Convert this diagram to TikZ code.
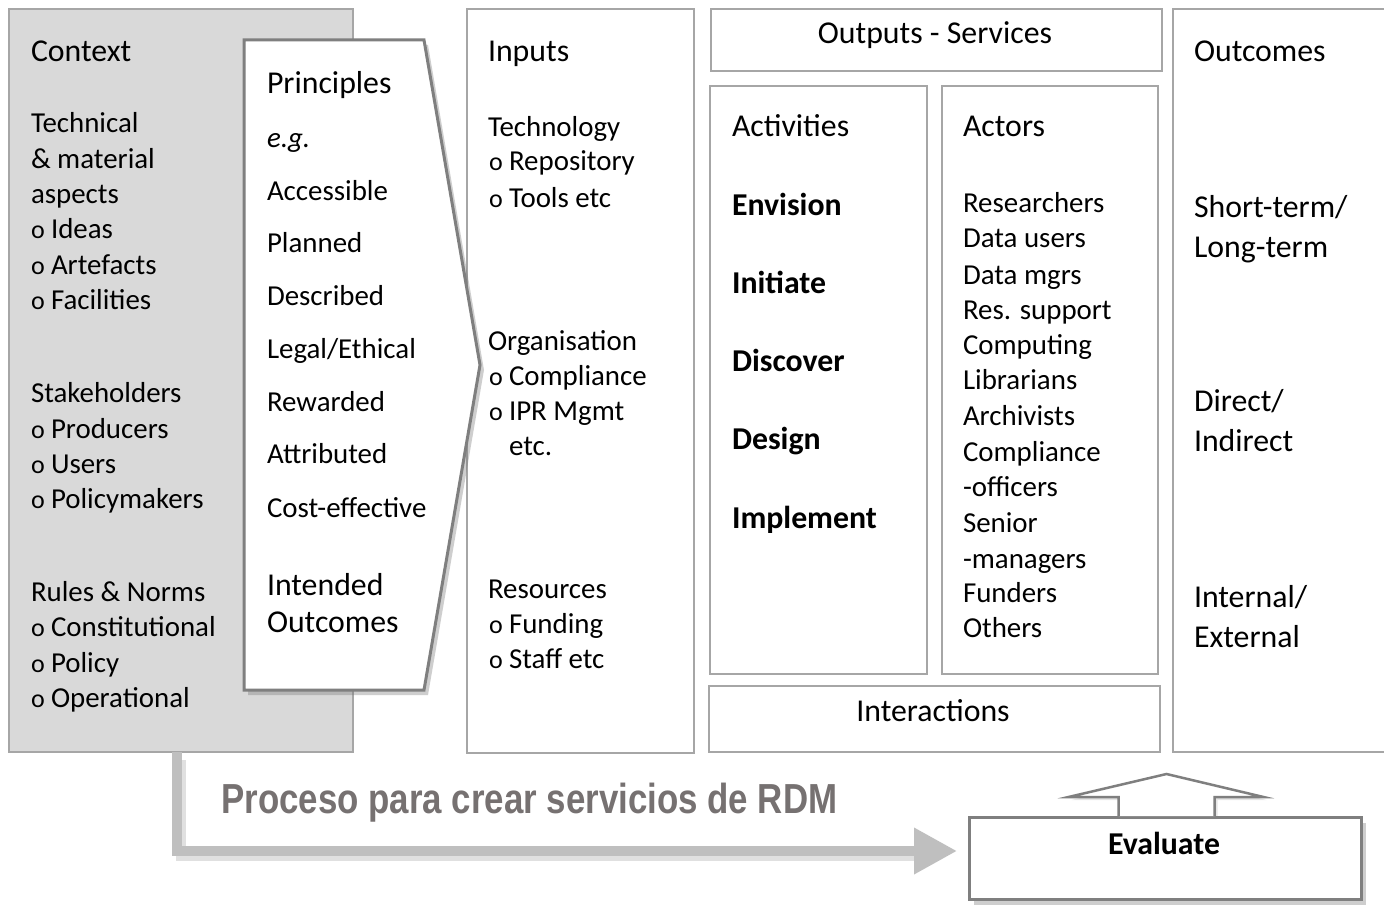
\documentclass[tikz,border=0pt]{standalone}
\usepackage{fontspec}
\setmainfont{Carlito}[ItalicFont={Carlito Italic},BoldFont={Carlito Bold},BoldItalicFont={Carlito Bold Italic}]
\newfontfamily\titlefont[FakeStretch=0.83]{Liberation Sans}
\usetikzlibrary{arrows.meta,shadows}
\definecolor{boxgray}{HTML}{A6A6A6}
\definecolor{ctxfill}{HTML}{D9D9D9}
\definecolor{darkborder}{HTML}{7F7F7F}
\definecolor{arrowgray}{HTML}{BFBFBF}
\definecolor{titlegray}{RGB}{118,113,113}
\newcounter{lnc}
\newcommand\bul{\makebox[20pt][l]{\fontsize{26}{26}\selectfont o}}
\newcommand\txtline[3]{\stepcounter{lnc}\node[txt] (l\arabic{lnc}) at (#1,#2) {#3};}
\newcommand\bigline[3]{\stepcounter{lnc}\node[txt,font=\bigsize] (l\arabic{lnc}) at (#1,#2) {#3};}
\newcommand\boldline[3]{\stepcounter{lnc}\node[txt,font=\bigsize\bfseries] (l\arabic{lnc}) at (#1,#2) {#3};}
\newcommand\bodysize{\fontsize{28.9}{35}\selectfont}
\newcommand\bigsize{\fontsize{31.8}{39}\selectfont}
\begin{document}
\begin{tikzpicture}[x=1pt,y=-1pt,
  txt/.style={anchor=base west,inner sep=0pt,outer sep=0pt,font=\bodysize,text=black},
  thinbox/.style={draw=boxgray,line width=2pt,fill=white,inner sep=0pt,anchor=north west},
  darkbox/.style={draw=darkborder,line width=3pt,fill=white},
  shad/.style={drop shadow={shadow xshift=4pt,shadow yshift=-5pt,opacity=0.35,fill=black!55}},
  lline/.style={draw=arrowgray,line width=10pt,line join=miter,-{Triangle[length=43pt,width=44pt]}}]
\useasboundingbox (0,0) rectangle (1384,915);
\fill[white] (0,0) rectangle (1384,915);

% boxes
\node[thinbox,fill=ctxfill,minimum width=344pt,minimum height=743pt] (ctx) at (8,8) {};
\node[thinbox,minimum width=227pt,minimum height=744pt] (inputs) at (466,8) {};
\node[thinbox,minimum width=451pt,minimum height=62pt] (outsvc) at (710,8) {};
\node[thinbox,minimum width=217pt,minimum height=588pt] (activities) at (709,85) {};
\node[thinbox,minimum width=216pt,minimum height=588pt] (actors) at (941,85) {};
\node[thinbox,minimum width=451pt,minimum height=66pt] (interactions) at (708,685) {};
\node[thinbox,minimum width=240pt,minimum height=743pt] (outcomes) at (1172,8) {};

% principles arrow shape
\path[darkbox,shad,line join=miter] (244,40) -- (424,40) -- (480,365) -- (424,690) -- (244,690) -- cycle;

% evaluate box
\node[darkbox,shad,anchor=north west,minimum width=392pt,minimum height=82pt,inner sep=0pt] (eval) at (968,816) {};
\node[txt,font=\bigsize\bfseries,anchor=base] (evtxt) at (1164,854) {Evaluate};

% up arrow from Evaluate towards Interactions
\path[darkbox,line width=2.5pt,line join=miter,drop shadow={shadow xshift=3pt,shadow yshift=-3pt,opacity=0.2,fill=black!50}]
  ([xshift=-47pt]eval.north) -- ++(0,-19) -- ++(-50,0) -- ([xshift=1pt,yshift=42pt]eval.north)
  -- ([xshift=98pt,yshift=19pt]eval.north) -- ([xshift=49pt,yshift=19pt]eval.north) -- ([xshift=49pt]eval.north);

% L-shaped arrow from Context to Evaluate
\coordinate (lstart) at (177,752);
\coordinate (ltip) at (957,851);
\draw[draw=black,opacity=0.12,line width=10pt,line join=miter] (181,760) |- (915,856);
\draw[lline] (lstart) |- (ltip);

% title
\node[anchor=base west,inner sep=0pt,text=titlegray,font=\titlefont\bfseries\fontsize{42}{42}\selectfont] (title) at (221,813) {Proceso para crear servicios de RDM};

% Context column
\bigline{31}{62}{Context}
\txtline{31}{133}{Technical}
\txtline{31}{168}{\& material}
\txtline{31}{203}{aspects}
\txtline{31}{238}{\bul Ideas}
\txtline{31}{274}{\bul Artefacts}
\txtline{31}{309}{\bul Facilities}
\txtline{31}{402}{Stakeholders}
\txtline{31}{438}{\bul Producers}
\txtline{31}{473}{\bul Users}
\txtline{31}{508}{\bul Policymakers}
\txtline{31}{601}{Rules \& Norms}
\txtline{31}{636}{\bul Constitutional}
\txtline{31}{672}{\bul Policy}
\txtline{31}{707}{\bul Operational}

% Principles column
\bigline{267}{94}{Principles}
\txtline{267}{147}{\itshape e.g.}
\txtline{267}{200}{Accessible}
\txtline{267}{252}{Planned}
\txtline{267}{305}{Described}
\txtline{267}{358}{Legal/Ethical}
\txtline{267}{411}{Rewarded}
\txtline{267}{463}{Attributed}
\txtline{267}{517}{Cost-effective}
\bigline{267}{595}{Intended}
\bigline{267}{632}{Outcomes}

% Inputs column
\bigline{488}{62}{Inputs}
\txtline{488}{136}{Technology}
\txtline{489}{171}{\bul Repository}
\txtline{489}{207}{\bul Tools etc}
\txtline{488}{350}{Organisation}
\txtline{489}{385}{\bul Compliance}
\txtline{489}{420}{\bul IPR Mgmt}
\txtline{509}{455}{etc.}
\txtline{488}{598}{Resources}
\txtline{489}{633}{\bul Funding}
\txtline{489}{668}{\bul Staff etc}

% Outputs - Services
\stepcounter{lnc}\node[txt,font=\bigsize,anchor=base] (svc) at (935,44) {Outputs - Services};

% Activities
\bigline{732}{136}{Activities}
\boldline{732}{215}{Envision}
\boldline{732}{293}{Initiate}
\boldline{732}{371}{Discover}
\boldline{732}{449}{Design}
\boldline{732}{528}{Implement}

% Actors
\bigline{963}{136}{Actors}
\txtline{963}{212}{Researchers}
\txtline{963}{247}{Data users}
\txtline{963}{284}{Data mgrs}
\txtline{963}{319}{Res. support}
\txtline{963}{354}{Computing}
\txtline{963}{389}{Librarians}
\txtline{963}{425}{Archivists}
\txtline{963}{461}{Compliance}
\txtline{963}{496}{-officers}
\txtline{963}{532}{Senior}
\txtline{963}{568}{-managers}
\txtline{963}{602}{Funders}
\txtline{963}{637}{Others}

% Interactions
\node[txt,font=\bigsize,anchor=base] (inttxt) at (933,721) {Interactions};

% Outcomes
\bigline{1194}{62}{Outcomes}
\bigline{1194}{217}{Short-term/}
\bigline{1194}{257}{Long-term}
\bigline{1194}{411}{Direct/}
\bigline{1194}{451}{Indirect}
\bigline{1194}{607}{Internal/}
\bigline{1194}{647}{External}
\end{tikzpicture}
\end{document}
